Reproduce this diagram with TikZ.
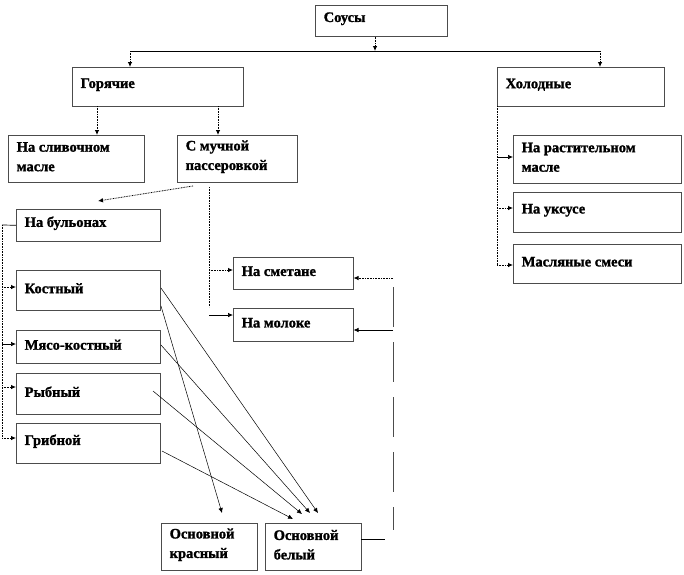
\documentclass[tikz,border=0pt]{standalone}
\usepackage{fontspec}
\setmainfont{Liberation Serif}
\newfontfamily\heavy{Liberation Serif}[UprightFont=* Bold, FakeBold=1.4]
\usetikzlibrary{arrows.meta,shadows}
\tikzset{
  boxst/.style={draw=black!70, line width=0.5pt, fill=white,
    drop shadow={shadow xshift=1pt, shadow yshift=-1pt, fill=black!80, opacity=1}},
  txt/.style={anchor=west, align=left, inner sep=0pt,
    font=\fontsize{14.5}{19.5}\selectfont\heavy},
  arr/.style={-{Latex[length=5pt,width=4.5pt]}},
  dl/.style={line width=0.8pt, dash pattern=on 0.8pt off 0.8pt},
  sl/.style={line width=0.7pt},
  diag/.style={line width=0.5pt, -{Latex[length=5pt,width=4.5pt]}},
}
\newcommand{\bx}[6]{%
  \node[boxst, minimum width=#4pt, minimum height=#5pt, anchor=north west] (#1) at (#2,#3) {};
  \node[txt] (#1t) at ([xshift=8.5pt,yshift=2pt]#1.west) {#6};}
\begin{document}
\begin{tikzpicture}[x=1pt,y=-1pt]
\fill[white] (0,0) rectangle (684,574);
\useasboundingbox (0,0) rectangle (684,574);

\bx{sousy}{315}{5}{132}{31}{Соусы}
\bx{hot}{72}{67}{171}{39}{Горячие}
\bx{cold}{497}{67}{167}{39}{Холодные}
\bx{butter}{8}{135}{136}{47}{На сливочном\\масле}
\bx{flour}{177}{135}{120}{47}{С мучной\\пассеровкой}
\bx{broth}{16}{209}{144}{32}{На бульонах}
\bx{bone}{16}{270}{144}{40}{Костный}
\bx{meat}{16}{330}{144}{33}{Мясо-костный}
\bx{fish}{16}{373}{144}{41}{Рыбный}
\bx{mush}{16}{423}{144}{40}{Грибной}
\bx{sour}{233}{257}{120}{32}{На сметане}
\bx{milk}{233}{308}{120}{33}{На молоке}
\bx{veg}{513}{135}{168}{48}{На растительном\\масле}
\bx{vinegar}{513}{192}{168}{40}{На уксусе}
\bx{oilmix}{513}{244}{168}{39}{Масляные смеси}
\bx{red}{161}{523}{96}{47}{Основной\\красный}
\bx{white}{265}{523}{96}{47}{Основной\\белый}

% top level
\coordinate (j0) at (375,51);
\coordinate (jl) at (130,51);
\coordinate (jr) at (600,51);
\draw[dl,arr] (sousy.south -| j0) -- (j0);
\draw[sl] (jl) -- (jr);
\draw[dl,arr] (jl) -- (jl |- hot.north);
\draw[dl,arr] (jr) -- (jr |- cold.north);

% hot
\coordinate (h1) at (97,106);
\coordinate (h2) at (218,106);
\draw[dl,arr] (h1) -- (h1 |- butter.north);
\draw[dl,arr] (h2) -- (h2 |- flour.north);

% flour
\coordinate (f1) at (193,186);
\coordinate (f1e) at (98,201);
\draw[dl,arr] (f1) -- (f1e);
\coordinate (f2) at (209,187);
\coordinate (f2e) at (209,307);
\draw[dl] (f2) -- (f2e);
\coordinate (f3) at (209,270);
\draw[dl,arr] (f3) -- (f3 -| sour.west);
\coordinate (f4) at (209,315);
\draw[sl,arr] (f4) -- (f4 -| milk.west);

% broths
\coordinate (l0) at (2,225);
\coordinate (l1) at (2,287);
\coordinate (l2) at (2,344);
\coordinate (l3) at (2,387);
\coordinate (l4) at (2,438);
\draw[sl] (broth.west) -- (l0);
\draw[dl] (l0) -- (l4);
\draw[dl,arr] (l1) -- (l1 -| bone.west);
\draw[sl,arr] (l2) -- (l2 -| meat.west);
\draw[dl,arr] (l3) -- (l3 -| fish.west);
\draw[dl,arr] (l4) -- (l4 -| mush.west);

% cold
\coordinate (c0) at (497,106);
\coordinate (c1) at (497,157);
\coordinate (c2) at (497,208);
\coordinate (c3) at (497,265);
\draw[dl] (c0) -- (c3);
\draw[sl,arr] (c1) -- (c1 -| veg.west);
\draw[dl,arr] (c2) -- (c2 -| vinegar.west);
\draw[dl,arr] (c3) -- (c3 -| oilmix.west);

% white back to sauces
\coordinate (w1) at (361,539);
\coordinate (w2) at (385,539);
\coordinate (r0) at (393,287);
\coordinate (r4) at (393,530);
\coordinate (r1) at (393,278);
\coordinate (r2) at (393,330);
\draw[sl] (w1) -- (w2);
\draw[line width=1pt, black!70, dash pattern=on 40pt off 15pt] (r0) -- (r4);
\draw[dl,arr] (r1) -- (r1 -| sour.east);
\draw[sl,arr] (r2) -- (r2 -| milk.east);

% diagonals
\coordinate (d1) at (161,288);
\coordinate (d2) at (161,306);
\coordinate (d3) at (161,345);
\coordinate (d4) at (153,391);
\coordinate (d5) at (162,451);
\coordinate (e1) at (318,513);
\coordinate (e2) at (222,513);
\coordinate (e3) at (310,513);
\coordinate (e4) at (302,514);
\coordinate (e5) at (293,519);
\draw[diag] (d1) -- (e1);
\draw[diag] (d2) -- (e2);
\draw[diag] (d3) -- (e3);
\draw[diag] (d4) -- (e4);
\draw[diag] (d5) -- (e5);
\end{tikzpicture}
\end{document}
